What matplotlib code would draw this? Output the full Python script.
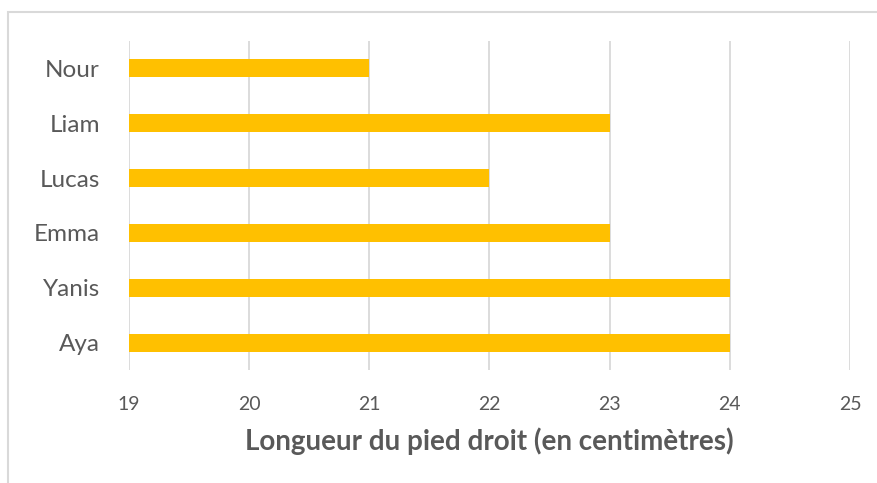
import matplotlib
matplotlib.use("Agg")
import matplotlib.pyplot as plt
from matplotlib.patches import Rectangle

# data, bottom to top as drawn
names = ["Aya", "Yanis", "Emma", "Lucas", "Liam", "Nour"]
lengths = [24, 24, 23, 22, 23, 21]
x_ticks = [19, 20, 21, 22, 23, 24, 25]

plt.rcParams["font.family"] = ["Lato", "DejaVu Sans"]

fig = plt.figure(figsize=(8.78, 4.83), dpi=100)
ax = fig.add_axes([0.1469, 0.234, 0.8212, 0.6811])

# chart area border (runs off the right / bottom of the image)
fig.patches.append(Rectangle((8 / 878, -0.05), 1.0, 1 - 12 / 483 + 0.05,
                             transform=fig.transFigure, fill=False,
                             edgecolor="#d9d9d9", linewidth=1.5))

y = list(range(len(names)))
left = x_ticks[0]
ax.barh(y, [v - left for v in lengths], left=left, height=0.33,
        color="#ffc000", zorder=3)

ax.set_xlim(x_ticks[0], x_ticks[-1])
ax.set_ylim(-0.5, len(names) - 0.5)
ax.set_xticks(x_ticks)
ax.set_yticks(y)
ax.set_yticklabels(names, fontsize=17.5, color="#595959")
ax.tick_params(axis="x", labelsize=14, colors="#595959", length=0, pad=19)
ax.tick_params(axis="y", length=0, pad=21)
ax.xaxis.grid(True, color="#d9d9d9", linewidth=1.3, zorder=0)
for s in ax.spines.values():
    s.set_visible(False)

ax.set_xlabel("Longueur du pied droit (en centimètres)", fontsize=20,
              fontweight="bold", color="#595959", labelpad=10)

fig.savefig("out.png", dpi=100)
